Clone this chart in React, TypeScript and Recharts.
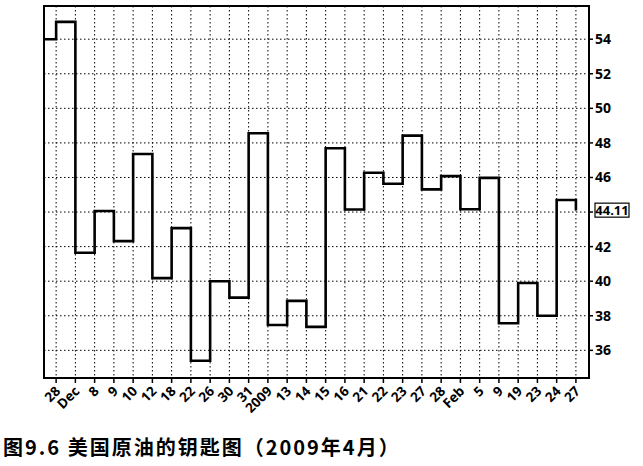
import { LineChart, Line, XAxis, YAxis, CartesianGrid, ReferenceArea, ReferenceLine } from 'recharts';

// tick labels along the bottom (one per reversal date)
const dateLabels = [
  '28', 'Dec', '8', '9', '10', '12', '18', '22', '26', '30', '31', '2009', '13', '14',
  '15', '16', '21', '22', '23', '27', '28', 'Feb', '5', '9', '19', '23', '24', '27',
];

// level held from each date to the next one
const stepValues = [
  55.0, 41.65, 44.06, 42.32, 47.36, 40.18, 43.07, 35.4, 40.0, 39.05, 48.56, 37.47, 38.86, 37.36,
  47.69, 44.15, 46.27, 45.64, 48.42, 45.31, 46.08, 44.16, 45.98, 37.57, 39.9, 38.0, 44.7,
];

const openingValue = 54.0;
const lastPrice = 44.11;
const yTicks = [36, 38, 40, 42, 44, 46, 48, 50, 52, 54];

const xMin = -0.63;
const xMax = 27.68;
const yMin = 34.4;
const yMax = 55.92;

const data = [
  { x: xMin, price: openingValue },
  ...stepValues.map((v, i) => ({ x: i, price: v })),
  { x: dateLabels.length - 1, price: lastPrice },
];

const FONT = '"Open Sans", "DejaVu Sans", sans-serif';

const DateTick = (props: any) => {
  const { x, y, payload } = props;
  const px = x + 5;
  const py = y + 7;
  return (
    <text
      x={px}
      y={py}
      transform={`rotate(-45, ${px}, ${py})`}
      textAnchor="end"
      fontSize={13.5}
      fontWeight={700}
      fontFamily={FONT}
      fill="#000"
    >
      {dateLabels[payload.value]}
    </text>
  );
};

const PriceBox = (props: any) => {
  const { viewBox } = props;
  const bx = viewBox.x + viewBox.width + 6;
  const by = viewBox.y - 7;
  return (
    <g>
      <rect x={bx} y={by} width={34} height={14} fill="#fff" stroke="#000" strokeWidth={1.2} />
      <text x={bx + 17} y={by + 11.5} textAnchor="middle" fontSize={13} fontWeight={700} fontFamily={FONT} fill="#000">
        {lastPrice.toFixed(2)}
      </text>
    </g>
  );
};

export default function App() {
  return (
    <div style={{ position: 'absolute', left: 0, top: 0, width: 643, height: 466, background: '#fff' }}>
      <LineChart
        width={643}
        height={420}
        data={data}
        margin={{ top: 6, right: 0, left: 44, bottom: 0 }}
      >
        <CartesianGrid stroke="#000" strokeDasharray="1.5 2.5" strokeWidth={1} />
        <XAxis
          dataKey="x"
          type="number"
          domain={[xMin, xMax]}
          ticks={dateLabels.map((_, i) => i)}
          interval={0}
          height={42}
          axisLine={{ stroke: '#000', strokeWidth: 2 }}
          tickLine={{ stroke: '#000', strokeWidth: 1.5 }}
          tickSize={5}
          tick={<DateTick />}
          allowDataOverflow
        />
        <YAxis
          orientation="right"
          type="number"
          domain={[yMin, yMax]}
          ticks={yTicks}
          width={54}
          axisLine={{ stroke: '#000', strokeWidth: 2 }}
          tickLine={{ stroke: '#000', strokeWidth: 1.5 }}
          tickSize={4}
          tickFormatter={(v: number) => (v === 44 ? '' : String(v))}
          tick={{ fill: '#000', fontSize: 14, fontWeight: 700, fontFamily: FONT, textAnchor: 'start' }}
          allowDataOverflow
        />
        <ReferenceArea x1={xMin} x2={xMax} y1={yMin} y2={yMax} fill="none" stroke="#000" strokeWidth={2} />
        <ReferenceLine y={lastPrice} stroke="none" label={<PriceBox />} />
        <Line
          type="stepAfter"
          dataKey="price"
          stroke="#000"
          strokeWidth={2.6}
          dot={false}
          isAnimationActive={false}
        />
      </LineChart>
      <div
        style={{
          position: 'absolute',
          left: 3,
          top: 432,
          fontFamily: '"Noto Sans CJK SC", sans-serif',
          fontWeight: 700,
          fontSize: 20,
          letterSpacing: 2,
          color: '#000',
          whiteSpace: 'nowrap',
        }}
      >
        图9.6 美国原油的钥匙图（2009年4月）
      </div>
    </div>
  );
}
